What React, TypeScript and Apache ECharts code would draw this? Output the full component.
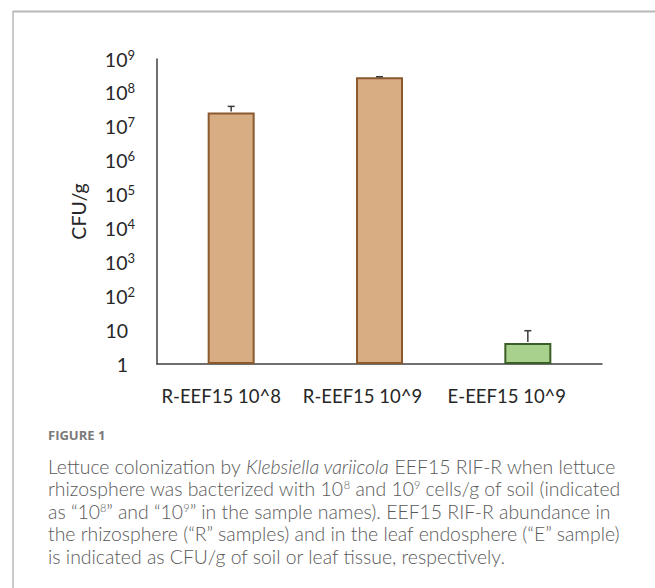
import React, { useEffect, useRef } from "react";
import * as echarts from "echarts";

const categories = ["R-EEF15 10^8", "R-EEF15 10^9", "E-EEF15 10^9"];
const cfuValues = [2.65e7, 2.9e8, 4.2];
const cfuUpper = [4.0e7, 3.0e8, 9.6];
const barFills = ["#D9AD84", "#D9AD84", "#A9D18E"];
const barBorders = ["#8A5A2E", "#8A5A2E", "#3B5E26"];
const yMin = 1;
const yMax = 1e9;

const captionTitle = "FIGURE 1";
const captionLines = [
  "Lettuce colonization by {i|Klebsiella variicola} EEF15 RIF-R when lettuce",
  "rhizosphere was bacterized with 10{s|8} and 10{s|9} cells/g of soil (indicated",
  "as \u201c10{s|8}\u201d and \u201c10{s|9}\u201d in the sample names). EEF15 RIF-R abundance in",
  "the rhizosphere (\u201cR\u201d samples) and in the leaf endosphere (\u201cE\u201d sample)",
  "is indicated as CFU/g of soil or leaf tissue, respectively.",
];

export default function App() {
  const ref = useRef<HTMLDivElement>(null);
  useEffect(() => {
    if (!ref.current) return;
    const chart = echarts.init(ref.current, null, { renderer: "svg" });
    const captionFont = "Lato, 'Open Sans', sans-serif";
    const tickFont = "Lato, sans-serif";
    const tickColor = "#262626";
    const capSize = 19.4;
    const captionRich = {
      i: { fontStyle: "italic", fontSize: capSize, fill: "#595959", fontFamily: captionFont, fontWeight: 300 },
      s: { fontSize: 11, fill: "#595959", fontFamily: captionFont, verticalAlign: "top", lineHeight: 11, fontWeight: 300 },
    };
    const xLabelShift = [20, 34, 42];
    const option: any = {
      animation: false,
      backgroundColor: "#ffffff",
      grid: { left: 157, right: 53, top: 59, bottom: 224, containLabel: false },
      xAxis: {
        type: "category",
        data: categories,
        axisLine: { show: true, lineStyle: { color: "#404040", width: 1.5 } },
        axisTick: { show: false },
        axisLabel: {
          interval: 0,
          margin: 22,
          fontSize: 18.5,
          color: tickColor,
          fontFamily: tickFont,
          formatter: (v: string, i: number) => "{c" + i + "|" + v + "}",
          rich: {
            c0: { fontSize: 18.5, color: tickColor, fontFamily: tickFont, padding: [0, xLabelShift[0], 0, 0] },
            c1: { fontSize: 18.5, color: tickColor, fontFamily: tickFont, padding: [0, xLabelShift[1], 0, 0] },
            c2: { fontSize: 18.5, color: tickColor, fontFamily: tickFont, padding: [0, xLabelShift[2], 0, 0] },
          },
        },
      },
      yAxis: {
        type: "log",
        logBase: 10,
        min: yMin,
        max: yMax,
        name: "CFU/g",
        nameLocation: "middle",
        nameGap: 69,
        nameRotate: 90,
        nameTextStyle: { fontSize: 19.5, color: tickColor, fontFamily: tickFont },
        axisLine: { show: true, lineStyle: { color: "#404040", width: 1.5 } },
        axisTick: { show: false },
        splitLine: { show: false },
        axisLabel: {
          margin: 22,
          fontSize: 19.5,
          color: tickColor,
          fontFamily: tickFont,
          formatter: (v: number) => {
            const e = Math.round(Math.log10(v));
            if (e === 0) return "{p|1}";
            if (e === 1) return "{p|10}";
            return "{b|10}{s|" + e + "}";
          },
          rich: {
            b: { fontSize: 19.5, color: tickColor, fontFamily: tickFont, lineHeight: 22 },
            p: { fontSize: 19.5, color: tickColor, fontFamily: tickFont, lineHeight: 22, padding: [0, 7, 0, 0] },
            s: { fontSize: 13, color: tickColor, fontFamily: tickFont, verticalAlign: "top", lineHeight: 13 },
          },
        },
      },
      series: [
        {
          type: "bar",
          barWidth: 47,
          data: cfuValues.map((v, i) => ({
            value: v,
            itemStyle: { color: barFills[i], borderColor: barBorders[i], borderWidth: 2 },
          })),
        },
        {
          type: "custom",
          encode: { x: 0, y: [1, 2] },
          data: cfuValues.map((v, i) => [i, v, cfuUpper[i]]),
          renderItem: (params: any, api: any) => {
            const base = api.coord([api.value(0), api.value(1)]);
            const top = api.coord([api.value(0), api.value(2)]);
            const style = { stroke: "#3a3a3a", lineWidth: 1.5 };
            return {
              type: "group",
              children: [
                { type: "line", shape: { x1: base[0], y1: base[1] - 1, x2: top[0], y2: top[1] }, style },
                { type: "line", shape: { x1: top[0] - 3.5, y1: top[1], x2: top[0] + 3.5, y2: top[1] }, style },
              ],
            };
          },
          z: 5,
        },
      ],
      graphic: [
        { type: "line", shape: { x1: 13, y1: 11.5, x2: 655, y2: 11.5 }, style: { stroke: "#b8b8b8", lineWidth: 2 } },
        { type: "line", shape: { x1: 13, y1: 11, x2: 13, y2: 588 }, style: { stroke: "#b8b8b8", lineWidth: 1.5 } },
        {
          type: "text",
          x: 48,
          y: 435,
          style: {
            text: captionTitle,
            fontSize: 13,
            fontWeight: "bold",
            fill: "#7a7a7a",
            fontFamily: "'Open Sans', Lato, sans-serif",
            verticalAlign: "middle",
          },
        },
        ...captionLines.map((t, k) => ({
          type: "text",
          x: 48,
          y: 466 + k * 22.5,
          style: {
            text: t,
            fontSize: capSize,
            fill: "#595959",
            fontFamily: captionFont,
            fontWeight: 300,
            verticalAlign: "middle",
            rich: captionRich,
          },
        })),
      ],
    };
    chart.setOption(option);
    return () => chart.dispose();
  }, []);
  return (
    <div
      ref={ref}
      style={{ position: "absolute", left: 0, top: 0, width: 655, height: 588 }}
    />
  );
}
